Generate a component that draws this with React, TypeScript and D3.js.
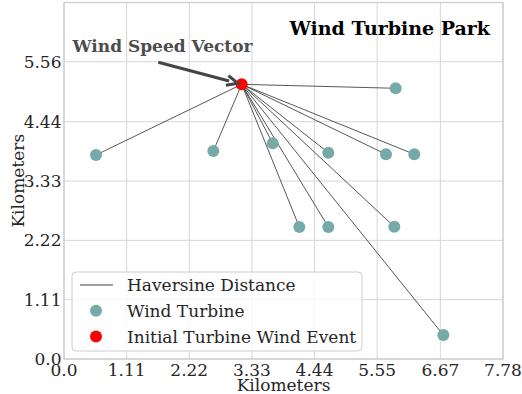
import React from "react";
import * as d3 from "d3";

const xTickValues = [0, 1.11, 2.22, 3.33, 4.44, 5.55, 6.67, 7.78];
const xTickLabels = ["0.0", "1.11", "2.22", "3.33", "4.44", "5.55", "6.67", "7.78"];
const yTickValues = [0, 1.11, 2.22, 3.33, 4.44, 5.56];
const yTickLabels = ["0.0", "1.11", "2.22", "3.33", "4.44", "5.56"];

const turbineX = [0.567, 2.646, 3.699, 4.684, 5.706, 6.208, 5.878, 4.17, 4.684, 5.854, 6.722];
const turbineY = [3.817, 3.891, 4.036, 3.86, 3.83, 3.83, 5.065, 2.47, 2.47, 2.475, 0.449];
const eventPoint = [3.149, 5.139];
const arrowStart = [1.671, 5.551];

const legendLabels = ["Haversine Distance", "Wind Turbine", "Initial Turbine Wind Event"];

const W = 522;
const H = 394;
const FONT = "'DejaVu Serif', serif";

export default function App() {
  const x = d3.scaleLinear().domain([0, 7.78]).range([64, 503]);
  const y = d3.scaleLinear().domain([0, 6.67]).range([359, 2.5]);
  const [x0, x1] = x.range();
  const [y0, y1] = y.range();

  const ex = x(eventPoint[0]);
  const ey = y(eventPoint[1]);

  const sx = x(arrowStart[0]);
  const sy = y(arrowStart[1]);
  const dx = ex - sx;
  const dy = ey - sy;
  const len = Math.hypot(dx, dy);
  const ux = dx / len;
  const uy = dy / len;
  const shrink = 4;
  const tx = ex - ux * shrink;
  const ty = ey - uy * shrink;
  const headLen = 11;
  const headW = 5;
  const bx = tx - ux * headLen;
  const by = ty - uy * headLen;
  const px = -uy;
  const py = ux;

  const lx = 72;
  const ly = 272;
  const rowH = 25.7;

  return (
    <svg width={W} height={H} style={{ position: "absolute", left: 0, top: 0 }}>
      <rect x={0} y={0} width={W} height={H} fill="white" />
      {xTickValues.map((v, i) => (
        <line key={"gx" + i} x1={x(v)} x2={x(v)} y1={y0} y2={y1} stroke="#d6d6d6" strokeWidth={1} />
      ))}
      {yTickValues.map((v, i) => (
        <line key={"gy" + i} x1={x0} x2={x1} y1={y(v)} y2={y(v)} stroke="#d6d6d6" strokeWidth={1} />
      ))}
      <rect x={x0} y={y1} width={x1 - x0} height={y0 - y1} fill="none" stroke="#cccccc" strokeWidth={1.25} />

      {turbineX.map((v, i) => (
        <line key={"l" + i} x1={ex} y1={ey} x2={x(v)} y2={y(turbineY[i])} stroke="#444" strokeWidth={0.9} />
      ))}
      {turbineX.map((v, i) => (
        <circle key={"c" + i} cx={x(v)} cy={y(turbineY[i])} r={6} fill="#76aaa8" />
      ))}
      <circle cx={ex} cy={ey} r={6} fill="#ff0000" />

      <line x1={sx} y1={sy} x2={bx + ux * 2} y2={by + uy * 2} stroke="#444" strokeWidth={3} />
      <path
        d={`M${bx + px * headW},${by + py * headW} L${tx},${ty} L${bx - px * headW},${by - py * headW}`}
        fill="none"
        stroke="#444"
        strokeWidth={3}
        strokeLinejoin="miter"
      />
      <text x={162.5} y={52} textAnchor="middle" fontFamily={FONT} fontWeight="bold" fontSize={17} fill="#4d4d4d">
        Wind Speed Vector
      </text>
      <text x={490} y={35} textAnchor="end" fontFamily={FONT} fontWeight="bold" fontSize={19} fill="#000">
        Wind Turbine Park
      </text>

      {xTickValues.map((v, i) => (
        <text key={"tx" + i} x={x(v)} y={376} textAnchor="middle" fontFamily={FONT} fontSize={17} fill="#262626">
          {xTickLabels[i]}
        </text>
      ))}
      {yTickValues.map((v, i) => (
        <text key={"ty" + i} x={61.5} y={y(v)} dy="0.36em" textAnchor="end" fontFamily={FONT} fontSize={17} fill="#262626">
          {yTickLabels[i]}
        </text>
      ))}
      <text x={(x0 + x1) / 2} y={391} textAnchor="middle" fontFamily={FONT} fontSize={17} fill="#262626">
        Kilometers
      </text>
      <text
        transform={`translate(18,${(y0 + y1) / 2}) rotate(-90)`}
        textAnchor="middle"
        dy="0.36em"
        fontFamily={FONT}
        fontSize={17}
        fill="#262626"
      >
        Kilometers
      </text>

      <rect x={lx} y={ly} width={290} height={79} rx={4} fill="white" fillOpacity={0.8} stroke="#cccccc" strokeWidth={1} />
      <line x1={lx + 8} x2={lx + 41} y1={ly + 13} y2={ly + 13} stroke="#444" strokeWidth={1} />
      <circle cx={lx + 24} cy={ly + 13 + rowH} r={6} fill="#76aaa8" />
      <circle cx={lx + 24} cy={ly + 13 + 2 * rowH} r={6} fill="#ff0000" />
      {legendLabels.map((t, i) => (
        <text key={"lg" + i} x={lx + 55} y={ly + 13 + i * rowH} dy="0.36em" fontFamily={FONT} fontSize={17} fill="#262626">
          {t}
        </text>
      ))}
    </svg>
  );
}
